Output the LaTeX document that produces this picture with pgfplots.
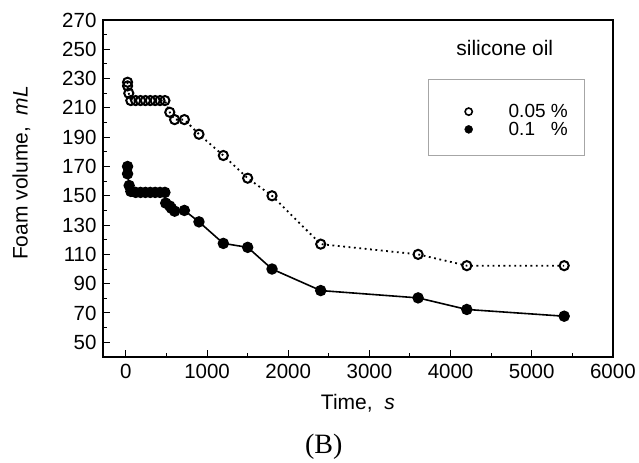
\documentclass[border=0pt]{standalone}
\usepackage{fontspec}
\setmainfont{Liberation Sans}
\newfontfamily\serifB{Liberation Serif}
\usepackage{pgfplots}
\pgfplotsset{compat=1.18}
\begin{document}
\begin{tikzpicture}
\begin{axis}[
  scale only axis,
  width=510pt, height=337pt,
  xmin=-283, xmax=6000,
  ymin=40, ymax=270,
  xtick={0,1000,...,6000},
  minor xtick={500,1500,...,5500},
  ytick={50,70,...,270},
  minor ytick={60,80,...,260},
  xtick pos=left, ytick pos=left,
  tick align=inside,
  major tick length=7pt, minor tick length=4pt,
  every tick/.style={black, line width=1pt},
  axis line style={line width=1.8pt},
  /pgf/number format/assume math mode=true,
  /pgf/number format/1000 sep={},
  tick label style={font=\fontsize{20.5}{22}\selectfont},
  xticklabel style={yshift=-4pt},
  yticklabel style={xshift=-3pt},
  xlabel={Time,\ \ \textit{s}},
  ylabel={Foam volume,\ \ \textit{mL}},
  label style={font=\fontsize{21}{24}\selectfont},
  xlabel style={at={(rel axis cs:0.5,-0.137)}, anchor=center},
  ylabel style={at={(rel axis cs:-0.160,0.546)}, anchor=center},
  clip=false,
  legend image code/.code={\path[draw=none, fill=none] (0pt,-3pt) rectangle (44pt,3pt); \draw[#1] plot coordinates {(4pt,0pt)};},
  legend style={at={(rel axis cs:0.709,0.755)}, anchor=north west, draw=none, fill=none,
    inner sep=0pt, row sep=0pt, font=\fontsize{19}{20}\selectfont,
    nodes={inner xsep=0pt, inner ysep=1.5pt}},
  legend cell align=left,
]
\addplot[black, line width=1.8pt, dash pattern=on 1.8pt off 3.6pt, mark=o,
  mark options={solid, line width=2pt, fill=white}, mark size=4.6pt, forget plot]
 coordinates {
 (20,227.5) (20,225) (35,220) (60,215) (120,215) (180,215) (240,215) (300,215) (360,215) (420,215) (480,215)
 (540,207) (600,202) (720,202) (900,192) (1200,177.5) (1500,162) (1800,150) (2400,117)
 (3600,110) (4200,102.3) (5400,102.3)
 };
\addplot[black, line width=1.6pt, mark=*, mark options={solid}, mark size=4.9pt, forget plot]
 coordinates {
 (20,170) (20,165) (40,157) (60,153) (120,152.3) (180,152.3) (240,152.3) (300,152.3) (360,152.3) (420,152.3) (480,152.3)
 (490,145) (540,143) (560,141.5) (600,139.5) (720,140) (900,132.2) (1200,117.5) (1500,114.8) (1800,100) (2400,85.3)
 (3600,80.3) (4200,72.4) (5400,67.8)
 };
\addlegendimage{only marks, mark=o, black, mark options={line width=1.6pt}, mark size=3.6pt}
\addlegendentry{0.05 \%}
\addlegendimage{only marks, mark=*, black, mark size=4pt}
\addlegendentry{0.1\ \ \ \%}
\draw[gray!70, line width=0.8pt] (rel axis cs:0.639,0.825) rectangle (rel axis cs:0.945,0.599);
\node[font=\fontsize{21}{24}\selectfont, anchor=center] at (rel axis cs:0.788,0.917) {silicone oil};
\node[font=\serifB\fontsize{28}{30}\selectfont, anchor=center] at (rel axis cs:0.433,-0.267) {(B)};
\path (rel axis cs:0,0) ++(-103pt,-101pt) (rel axis cs:1,1) ++(26pt,20pt);
\end{axis}
\end{tikzpicture}
\end{document}
